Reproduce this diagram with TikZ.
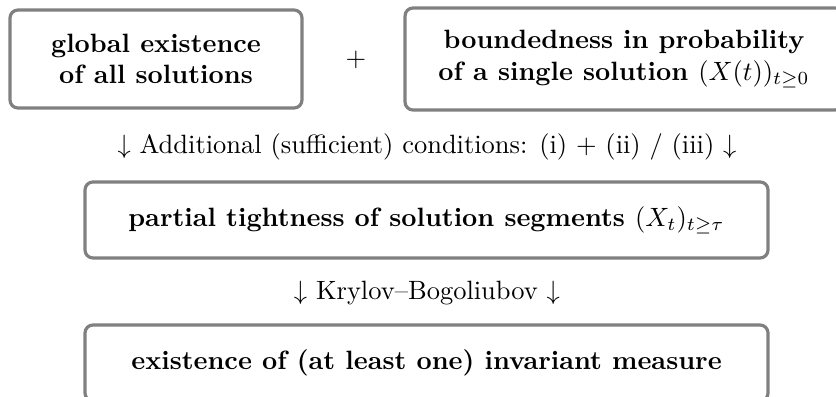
\documentclass[tikz,border=0pt]{standalone}
\usetikzlibrary{positioning}

\begin{document}
\begin{tikzpicture}[font=\normalsize,
      kotak/.style={draw=gray, line width=1.2pt, rounded corners=3pt, align=center, inner sep=3pt, font=\bfseries},
      ket/.style={align=center, inner sep=1pt}]
      \useasboundingbox (0,0) rectangle (11.098,5.270);

      % atas: dua asumsi
      \node[kotak, minimum width=3.876cm, minimum height=1.301cm] (glob) at (2.071,4.487) {global existence\\ of all solutions};
      \node (plus) at (4.726,4.474) {$+$};
      \node[kotak, minimum width=5.814cm, minimum height=1.354cm] (bound) at (8.284,4.487) {boundedness in probability\\ of a single solution $(X(t))_{t\geq 0}$};

      % syarat tambahan
      \node[ket] (cond) at (5.668,3.319) {$\downarrow$ Additional (sufficient) conditions: (i) + (ii) / (iii) $\downarrow$};

      % tengah
      \node[kotak, minimum width=9.067cm, minimum height=1.009cm] (tight) at (5.662,2.350) {partial tightness of solution segments $(X_t)_{t\geq\tau}$};

      \node[ket] (kb) at (5.668,1.381) {$\downarrow$ Krylov--Bogoliubov $\downarrow$};

      % bawah
      \node[kotak, minimum width=9.067cm, minimum height=1.009cm] (inv) at (5.662,0.451) {existence of (at least one) invariant measure};
    \end{tikzpicture}
\end{document}
